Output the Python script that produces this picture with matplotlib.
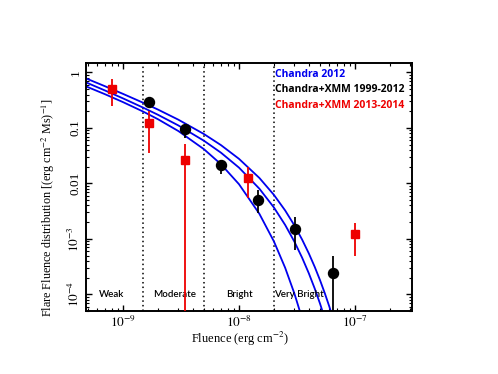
import matplotlib
matplotlib.use("Agg")
import matplotlib.pyplot as plt
import numpy as np

plt.rcParams["mathtext.fontset"] = "stix"

# Chandra+XMM 2013-2014 (red squares)
red_x = [8.0e-10, 1.66e-9, 3.43e-9, 1.2e-8, 1.0e-7]
red_y = [0.50, 0.124, 0.026, 0.0123, 1.22e-3]
red_lo = [0.25, 0.035, 1e-6, 0.0055, 5.0e-4]
red_hi = [0.76, 0.20, 0.051, 0.0196, 1.95e-3]

# Chandra+XMM 1999-2012 (black circles)
blk_x = [1.66e-9, 3.43e-9, 7.0e-9, 1.47e-8, 3.07e-8, 6.4e-8]
blk_y = [0.29, 0.095, 0.0214, 5.1e-3, 1.5e-3, 2.45e-4]
blk_lo = [0.23, 0.067, 0.0146, 2.9e-3, 6.3e-4, 1e-6]
blk_hi = [0.35, 0.12, 0.026, 7.6e-3, 2.45e-3, 4.9e-4]

# Chandra 2012 model curves
curve_x = [4.8e-10, 7e-10, 1e-9, 1.5e-9, 2e-9, 3e-9, 5e-9, 7e-9, 1e-8, 1.5e-8,
           2e-8, 2.5e-8, 3e-8, 3.5e-8, 4e-8, 4.5e-8, 5e-8, 5.5e-8, 6e-8, 6.5e-8]
top_y = [0.781, 0.564, 0.411, 0.283, 0.2144, 0.1408, 0.0773, 0.0489, 0.0277, 0.01251,
         6.21e-3, 3.25e-3, 1.757e-3, 9.71e-4, 5.46e-4, 3.11e-4, 1.789e-4, 1.037e-4,
         6.06e-5, 3.56e-5]
mid_y = [0.662, 0.473, 0.341, 0.231, 0.1727, 0.1109, 0.0585, 0.0357, 0.01923, 8.01e-3,
         3.68e-3, 1.782e-3, 8.94e-4, 4.58e-4, 2.39e-4, 1.264e-4, 6.75e-5, 3.64e-5]
bot_y = [0.561, 0.405, 0.292, 0.196, 0.1437, 0.0879, 0.0412, 0.0221, 9.67e-3, 2.82e-3,
         9.0e-4, 3.01e-4, 1.041e-4, 3.67e-5]

# Category boundaries and labels
bounds = [1.5e-9, 5.0e-9, 2.0e-8]
cat_labels = ["Weak", "Moderate", "Bright", "Very Bright"]
cat_x = [8.0e-10, 2.8e-9, 1.0e-8, 3.3e-8]

legend_labels = ["Chandra 2012", "Chandra+XMM 1999-2012", "Chandra+XMM 2013-2014"]
legend_colors = ["#0000ee", "black", "#ee0000"]

fig = plt.figure(figsize=(4.98, 3.74), dpi=100)
ax = fig.add_axes([0.1727, 0.1684, 0.6546, 0.664])

for ys in [top_y, mid_y, bot_y]:
    ax.plot(curve_x[:len(ys)], ys, color="#0000ee", lw=1.3, zorder=2)

for b in bounds:
    ax.axvline(b, color="black", ls=(0, (1, 2)), lw=1.1, zorder=1)

ry = np.array(red_y)
ax.errorbar(red_x, red_y, yerr=[ry - np.array(red_lo), np.array(red_hi) - ry],
            fmt="s", color="#ee0000", ms=6, elinewidth=1.3, capsize=0, zorder=4)
by = np.array(blk_y)
ax.errorbar(blk_x, blk_y, yerr=[by - np.array(blk_lo), np.array(blk_hi) - by],
            fmt="o", color="black", ms=7.2, elinewidth=1.3, capsize=0, zorder=3)

ax.set_xscale("log")
ax.set_yscale("log")
ax.set_xlim(4.8e-10, 3.1e-7)
ax.set_ylim(5e-5, 1.5)

ax.set_yticks([1e-4, 1e-3, 1e-2, 1e-1, 1])
ax.set_yticklabels([r"$10^{-4}$", r"$10^{-3}$", "0.01", "0.1", "1"])
ax.set_xticks([1e-9, 1e-8, 1e-7])
ax.set_xticklabels([r"$10^{-9}$", r"$10^{-8}$", r"$10^{-7}$"])

for lab in ax.get_yticklabels():
    lab.set_rotation(90)
    lab.set_va("center")

ax.tick_params(which="both", direction="in", top=True, right=True)
ax.tick_params(which="major", length=4.5, width=1.0, labelsize=9.5, pad=3)
ax.tick_params(which="minor", length=2.5, width=0.8)
for lab in ax.get_xticklabels() + ax.get_yticklabels():
    lab.set_family("Liberation Serif")
for s in ax.spines.values():
    s.set_linewidth(1.4)

ax.set_xlabel(r"Fluence (erg cm$^{-2}$)", family="Liberation Serif", fontsize=9)
ax.set_ylabel(r"Flare Fluence distribution [(erg cm$^{-2}$ Ms)$^{-1}$]",
              family="Liberation Serif", fontsize=8.7)
ax.xaxis.set_label_coords(0.472, -0.075)
ax.yaxis.set_label_coords(-0.09, 0.415)

for lab, cx in zip(cat_labels, cat_x):
    ax.text(cx, 1.0e-4, lab, ha="center", va="center", fontsize=7,
            family="Lato", fontweight="semibold")

for i, (lab, c) in enumerate(zip(legend_labels, legend_colors)):
    ax.text(0.58, 0.952 - i * 0.062, lab, color=c, transform=ax.transAxes,
            ha="left", va="center", fontsize=7.5, family="Open Sans",
            fontweight="bold")

fig.savefig("out.png", dpi=100)
